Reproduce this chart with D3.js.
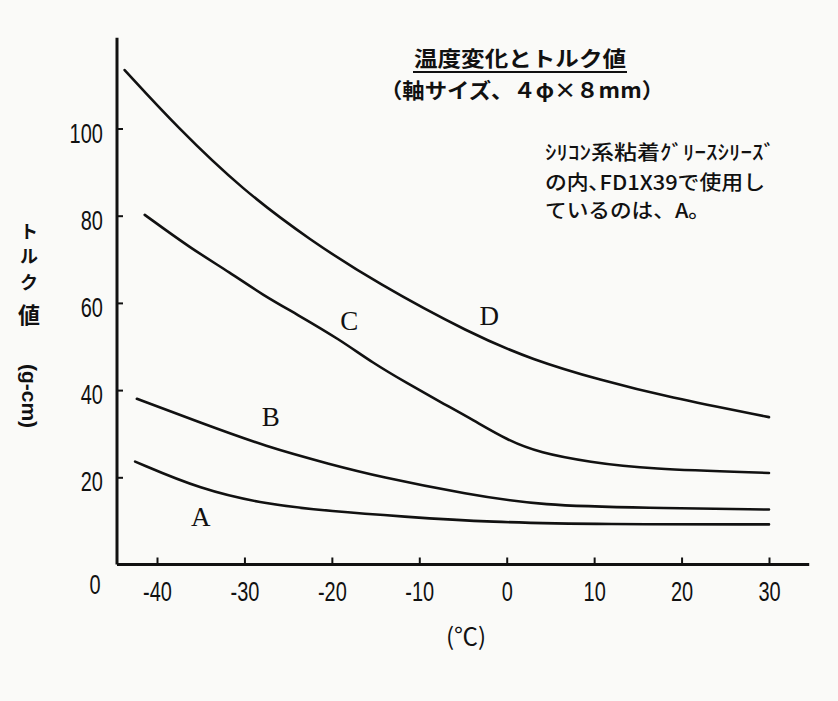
<!DOCTYPE html>
<html>
<head>
<meta charset="utf-8">
<script src="https://cdn.jsdelivr.net/npm/d3@7/dist/d3.min.js"></script>
<style>
  html, body { margin: 0; padding: 0; background: #fafaf8; }
  svg { display: block; }
</style>
</head>
<body>
<div id="graph"></div>
<script>
// temperature (°C) / torque (g-cm)
const tempsA = [-42.5, -35, -27.5, -20, -12, -2, 11, 30];
const torqueA = [23.6, 17.2, 13.8, 12.2, 11.0, 9.7, 9.2, 9.2];

const tempsB = [-42.3, -35, -27.5, -20, -14.7, -4.5, 4, 16, 30];
const torqueB = [38, 32.5, 27, 22.9, 20.2, 16.1, 13.5, 13, 12.6];

const tempsC = [-41.4, -36.2, -31.6, -27.9, -24, -19.1, -15.3, -11.4, -7.6, -3.8, 0, 3.8, 9.5, 16, 30];
const torqueC = [80.2, 72.6, 66.9, 61.8, 57.4, 51.6, 46.2, 41.6, 37.3, 33.1, 28.6, 25.6, 23.5, 21.9, 21.0];

const tempsD = [-43.7, -37.7, -30.2, -22.5, -14.8, -4.2, 3, 10.7, 18.4, 30];
const torqueD = [113.4, 100.3, 85.9, 74.4, 64.5, 53, 46.9, 42.3, 38.4, 33.8];

const seriesNames = ["A", "B", "C", "D"];
const labelTemps = [-35, -27, -18, -2];
const labelTorques = [11, 34, 56, 57];

const xTicks = [-40, -30, -20, -10, 0, 10, 20, 30];
const yTicks = [20, 40, 60, 80, 100];

const width = 838;
const height = 701;

const xScale = d3.scaleLinear().domain([-40, 30]).range([157, 769]);
const yScale = d3.scaleLinear().domain([0, 100]).range([564.5, 128.5]);

const svg = d3.select("#graph").append("svg")
  .attr("width", width)
  .attr("height", height);

const ink = "#111";
const numFont = "'Liberation Sans', Arial, sans-serif";
const jpFont = "'Noto Sans CJK JP', sans-serif";
const squeeze = 0.74;

//axes lines
const xMinT = xScale.invert(117);
svg.append("line")
   .attr("x1", xScale(xMinT)).attr("x2", xScale(34.6))
   .attr("y1", yScale(0)).attr("y2", yScale(0))
   .attr("stroke", ink).attr("stroke-width", 3);
svg.append("line")
   .attr("x1", xScale(xMinT)).attr("x2", xScale(xMinT))
   .attr("y1", yScale(0)).attr("y2", yScale(120.8))
   .attr("stroke", ink).attr("stroke-width", 3);

//x axis ticks
const xAxis = d3.axisBottom(xScale)
  .tickValues(xTicks)
  .tickSizeInner(-7)
  .tickSizeOuter(0)
  .tickPadding(17)
  .tickFormat(d3.format("d"));

const gx = svg.append("g")
   .attr("transform", `translate(0, ${yScale(0)})`)
   .call(xAxis);
gx.select(".domain").remove();
gx.selectAll(".tick line").attr("stroke", ink).attr("stroke-width", 2);
gx.selectAll(".tick text")
   .attr("fill", ink)
   .attr("transform", `scale(${squeeze}, 1)`)
   .style("font-family", numFont)
   .style("font-size", "27px")
   .text(d => d < 0 ? "-" + Math.abs(d) : d);

//y axis ticks
const yAxis = d3.axisLeft(yScale)
  .tickValues(yTicks)
  .tickSizeInner(-6)
  .tickSizeOuter(0)
  .tickPadding(19)
  .tickFormat(d3.format("d"));

const gy = svg.append("g")
   .attr("transform", `translate(${xScale(xMinT)}, 0)`)
   .call(yAxis);
gy.select(".domain").remove();
gy.selectAll(".tick line").attr("stroke", ink).attr("stroke-width", 2);
gy.selectAll(".tick text")
   .attr("fill", ink)
   .attr("dy", "0.5em")
   .attr("transform", `scale(${squeeze}, 1)`)
   .style("font-family", numFont)
   .style("font-size", "27px");

//origin label
svg.append("text")
   .attr("transform", `translate(95, 594) scale(${squeeze}, 1)`)
   .attr("text-anchor", "middle")
   .attr("fill", ink)
   .style("font-family", numFont)
   .style("font-size", "27px")
   .text("0");

//x label
svg.append("text")
   .attr("x", 466).attr("y", 645)
   .attr("text-anchor", "middle")
   .attr("fill", ink)
   .style("font-family", jpFont)
   .style("font-size", "24px")
   .text("(℃)");

//y label, stacked characters
const yLabelChars = ["ト", "ル", "ク", "値"];
const yLabelYs = [238, 263, 289, 323];
svg.selectAll(".ylab")
   .data(yLabelChars)
   .enter()
   .append("text")
   .attr("class", "ylab")
   .attr("x", 29)
   .attr("y", (d, i) => yLabelYs[i])
   .attr("text-anchor", "middle")
   .attr("fill", ink)
   .style("font-family", jpFont)
   .style("font-weight", "bold")
   .style("font-size", (d, i) => i === 3 ? "22px" : "18px")
   .text(d => d);

svg.append("text")
   .attr("transform", "translate(22, 396) rotate(90)")
   .attr("text-anchor", "middle")
   .attr("fill", ink)
   .style("font-family", numFont)
   .style("font-weight", "bold")
   .style("font-size", "21px")
   .text("(g-cm)");

//curves
const line = d3.line()
  .x(d => xScale(d[0]))
  .y(d => yScale(d[1]))
  .curve(d3.curveBasis);

const curves = [
  d3.zip(tempsA, torqueA),
  d3.zip(tempsB, torqueB),
  d3.zip(tempsC, torqueC),
  d3.zip(tempsD, torqueD)
];

svg.selectAll(".curve")
   .data(curves)
   .enter()
   .append("path")
   .attr("class", "curve")
   .attr("d", line)
   .attr("fill", "none")
   .attr("stroke", ink)
   .attr("stroke-width", 2.6)
   .attr("stroke-linecap", "round");

//curve letters
svg.selectAll(".curve-label")
   .data(seriesNames)
   .enter()
   .append("text")
   .attr("class", "curve-label")
   .attr("x", (d, i) => xScale(labelTemps[i]))
   .attr("y", (d, i) => yScale(labelTorques[i]))
   .attr("text-anchor", "middle")
   .attr("dy", "0.35em")
   .attr("fill", ink)
   .style("font-family", "'Liberation Serif', 'DejaVu Serif', serif")
   .style("font-size", "27px")
   .text(d => d);

//title
svg.append("text")
   .attr("x", 520).attr("y", 66)
   .attr("text-anchor", "middle")
   .attr("textLength", 212)
   .attr("lengthAdjust", "spacingAndGlyphs")
   .attr("fill", ink)
   .style("font-family", jpFont)
   .style("font-weight", "bold")
   .style("font-size", "21px")
   .text("温度変化とトルク値");
svg.append("line")
   .attr("x1", 413).attr("x2", 627)
   .attr("y1", 72).attr("y2", 72)
   .attr("stroke", ink).attr("stroke-width", 2);
svg.append("text")
   .attr("x", 522).attr("y", 98)
   .attr("text-anchor", "middle")
   .attr("textLength", 284)
   .attr("lengthAdjust", "spacingAndGlyphs")
   .attr("fill", ink)
   .style("font-family", jpFont)
   .style("font-weight", "bold")
   .style("font-size", "21px")
   .text("（軸サイズ、４φ×８mm）");

//note
const noteLines = ["ｼﾘｺﾝ系粘着ｸﾞﾘｰｽｼﾘｰｽﾞ", "の内､FD1X39で使用し", "ているのは、A。"];
const noteWidths = [230, 220, 165];
const noteYs = [160, 190, 218];
svg.selectAll(".note")
   .data(noteLines)
   .enter()
   .append("text")
   .attr("class", "note")
   .attr("x", 545)
   .attr("y", (d, i) => noteYs[i])
   .attr("textLength", (d, i) => noteWidths[i])
   .attr("lengthAdjust", "spacingAndGlyphs")
   .attr("fill", ink)
   .style("font-family", jpFont)
   .style("font-weight", "500")
   .style("font-size", "20px")
   .text(d => d);
</script>
</body>
</html>
